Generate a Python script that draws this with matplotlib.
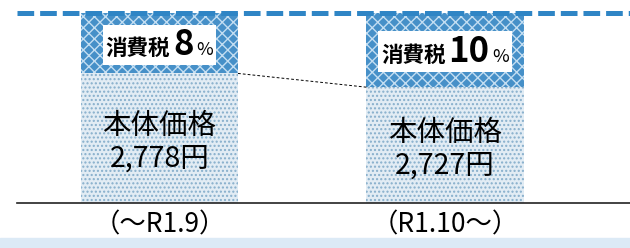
import matplotlib
matplotlib.use('Agg')
import matplotlib.pyplot as plt
from matplotlib.offsetbox import TextArea, HPacker, AnnotationBbox
from matplotlib.patches import Rectangle

plt.rcParams['font.family'] = ['Noto Sans CJK JP', 'DejaVu Sans']
plt.rcParams['hatch.linewidth'] = 1.0
plt.rcParams['lines.scale_dashes'] = False

# ---- data ----
categories = ['（～R1.9）', '（R1.10～）']
base_price = [2778, 2727]
tax_amount = [222, 273]
tax_rate = ['8', '10']
price_total = 3000
y_floor = 2298
y_ceil = 3050

fig = plt.figure(figsize=(6.3, 2.48), dpi=100)
ax = fig.add_axes([17 / 630, 45 / 248, 1 - 17 / 630, 203 / 248])

x = [0, 1]
w = 0.55
ax.bar(x, base_price, width=w, color='#e2ecf4', edgecolor='#86aecb',
       hatch='....', linewidth=0, zorder=2)
ax.bar(x, tax_amount, bottom=base_price, width=w, color='#4690c8',
       edgecolor='#c3def2', hatch='xxx', linewidth=0, zorder=2)

ax.set_xlim(-0.499, 1.648)
ax.set_ylim(y_floor, y_ceil)

ax.axhline(price_total, color='#2f85c5', lw=3.6, dashes=(12, 4.3), zorder=3)
ax.plot([x[0] + w / 2, x[1] - w / 2], [base_price[0], base_price[1]],
        color='black', lw=0.7, dashes=(2, 1.5), zorder=3)

for s in ['top', 'left', 'right']:
    ax.spines[s].set_visible(False)
ax.spines['bottom'].set_color('#222222')
ax.spines['bottom'].set_linewidth(1.2)
ax.set_yticks([])
ax.set_xticks(x, categories, fontsize=19)
ax.tick_params(axis='x', length=0, pad=6)

for i in range(len(x)):
    parts = [TextArea('消費税', textprops=dict(fontsize=15.5, color='black', fontweight='bold')),
             TextArea(tax_rate[i], textprops=dict(fontsize=25, color='black', fontweight='bold')),
             TextArea('%', textprops=dict(fontsize=13, color='black'))]
    box = HPacker(children=parts, align='baseline', pad=0, sep=2)
    ab = AnnotationBbox(box, (x[i], base_price[i] + tax_amount[i] / 2),
                        xybox=(0, -1), boxcoords='offset points',
                        frameon=True, pad=0.2,
                        bboxprops=dict(facecolor='white', edgecolor='none'),
                        box_alignment=(0.5, 0.5), zorder=4)
    ax.add_artist(ab)
    ax.annotate(f'本体価格\n{base_price[i]:,}円',
                xy=(x[i], (y_floor + base_price[i]) / 2), xytext=(0, -3),
                textcoords='offset points', ha='center', va='center',
                fontsize=20.5, linespacing=1.15,
                multialignment='center', zorder=4)

fig.add_artist(Rectangle((0, 0), 1, 10 / 248, transform=fig.transFigure,
                         color='#dceaf6', zorder=0))

fig.savefig('out.png', dpi=100)
